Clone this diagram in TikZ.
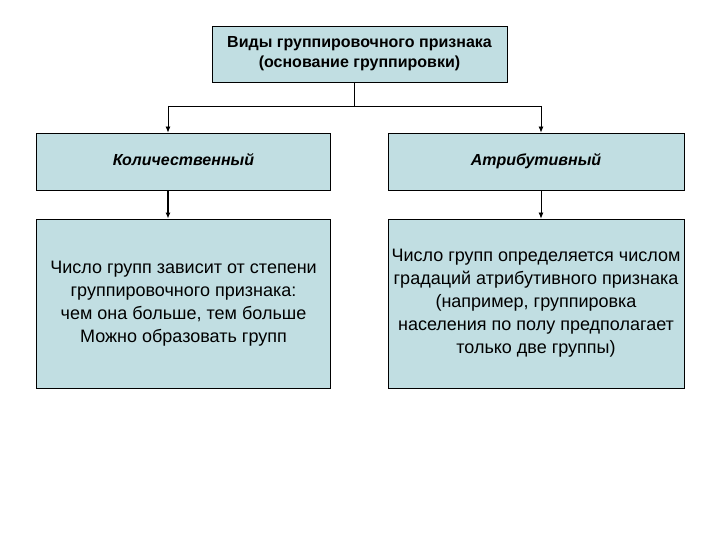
\documentclass[tikz,border=0pt]{standalone}
\usepackage{fontspec}
\setmainfont{Liberation Sans}
\usetikzlibrary{positioning}
\usetikzlibrary{arrows.meta}

\definecolor{boxfill}{RGB}{193,222,226}

\begin{document}
\begin{tikzpicture}[x=1pt, y=-1pt]
    \tikzset{
        box/.style={draw, thick, fill=boxfill, inner sep=0pt, align=center},
        link/.style={thick},
        arrow/.style={thick, -{Latex[length=6pt, width=5pt]}}
    }

    % Canvas
    \useasboundingbox (0,0) rectangle (720,540);

    % Boxes
    \node [box, minimum width=295pt, minimum height=56pt, font=\bfseries\fontsize{16}{20}\selectfont]
        (kind) at (359.5,54) {Виды группировочного признака\\(основание группировки)};

    \node [box, minimum width=294pt, minimum height=57pt, font=\bfseries\itshape\fontsize{16}{19}\selectfont]
        (quant) at (183.5,161.5) {\strut Количественный};
    \node [box, minimum width=296pt, minimum height=57pt, font=\bfseries\itshape\fontsize{16}{19}\selectfont]
        (attr) at (536,161.5) {\strut Атрибутивный};

    \node [box, minimum width=294pt, minimum height=169pt, font=\fontsize{18}{23}\selectfont]
        (quantdesc) at (183.5,303.5) {Число групп зависит от степени\\группировочного признака:\\чем она больше, тем больше\\Можно образовать групп};
    \node [box, minimum width=296pt, minimum height=169pt, font=\fontsize{18}{23}\selectfont]
        (attrdesc) at (536,303.5) {Число групп определяется числом\\градаций атрибутивного признака\\(например, группировка\\населения по полу предполагает\\только две группы)};

    % Connectors
    \coordinate (split) at (354,106);
    \coordinate (lt) at (168,106);
    \coordinate (rt) at (541,106);

    \draw [link] (kind.south -| split) -- (split);
    \draw [link] (lt) -- (rt);
    \draw [arrow] (lt) -- (lt |- quant.north);
    \draw [arrow] (rt) -- (rt |- attr.north);
    \draw [arrow, line width=1.6pt] (lt |- quant.south) -- (lt |- quantdesc.north);
    \draw [arrow] (rt |- attr.south) -- (rt |- attrdesc.north);

\end{tikzpicture}
\end{document}
